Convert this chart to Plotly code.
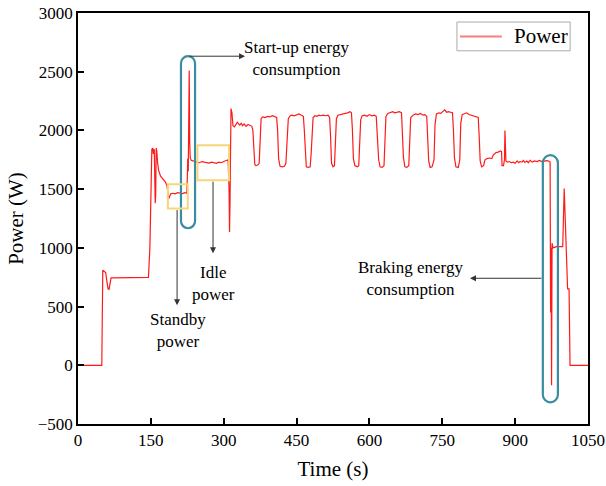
import plotly.graph_objects as go

# ---- data ----
time_s = [0, 49, 51, 54, 57, 60, 62, 64, 66, 68, 73, 100, 125, 145, 148, 152, 154, 155, 157, 159,
          160, 161, 162, 164, 166, 170, 175, 180, 183, 185, 187, 189, 191, 195, 200, 205, 210, 215,
          220, 224, 225, 226, 227, 228, 229, 230, 231, 233, 236, 240, 245, 250, 255, 260, 265, 270,
          275, 280, 285, 290, 295, 300, 305, 309, 311, 312, 313, 315, 317, 319, 322, 325, 328, 330,
          333, 336, 339, 342, 346, 350, 354, 358, 360, 362, 364, 366, 370, 373, 375, 377, 380, 385,
          390, 395, 400, 405, 409, 411, 413, 416, 420, 425, 428, 431, 433, 437, 440, 445, 450, 455,
          460, 464, 466, 468, 470, 474, 478, 480, 482, 484, 488, 492, 496, 500, 505, 510, 515, 518,
          520, 522, 525, 528, 530, 532, 535, 540, 545, 550, 555, 560, 563, 565, 567, 570, 575, 578,
          580, 582, 585, 590, 595, 600, 605, 610, 614, 616, 619, 622, 626, 630, 632, 634, 638, 643,
          648, 652, 657, 662, 666, 668, 670, 673, 677, 681, 683, 685, 690, 695, 700, 705, 710, 714,
          718, 720, 722, 725, 729, 733, 735, 738, 743, 747, 751, 755, 759, 763, 767, 771, 773, 775,
          778, 783, 786, 788, 791, 796, 800, 805, 810, 815, 820, 824, 826, 828, 831, 835, 838, 842,
          848, 852, 855, 860, 865, 870, 872, 873, 876, 878, 879, 880, 881, 884, 888, 892, 896, 900,
          904, 907, 910, 914, 917, 920, 924, 927, 931, 935, 940, 945, 950, 955, 960, 965, 969, 972,
          973, 974, 975, 976, 978, 985, 992, 998, 1001, 1008, 1011, 1013, 1030, 1050]
power_w = [0, 0, 810, 800, 790, 700, 650, 648, 700, 745, 745, 745, 745, 748, 1000, 1840, 1850, 1800, 1840, 1380,
           1450, 1850, 1830, 1720, 1660, 1610, 1580, 1560, 1530, 1470, 1420, 1440, 1460, 1465, 1460, 1470, 1465, 1462,
           1470, 1465, 1600, 1760, 1650, 2200, 2510, 1900, 1770, 1745, 1740, 1735, 1730, 1725, 1735, 1730, 1725, 1722,
           1730, 1728, 1720, 1730, 1725, 1735, 1740, 1750, 1500, 1135, 1400, 2186, 2150, 2040, 2030, 2050, 2070, 2060,
           2045, 2060, 2040, 2055, 2035, 2050, 2040, 2035, 2000, 1850, 1710, 1700, 1705, 1720, 1950, 2100, 2115, 2110,
           2120, 2115, 2125, 2120, 2110, 2000, 1760, 1695, 1690, 1695, 1720, 1950, 2100, 2125, 2130, 2125, 2130, 2140,
           2130, 2120, 2000, 1780, 1690, 1685, 1690, 1800, 2050, 2110, 2125, 2120, 2130, 2125, 2130, 2125, 2130, 2110,
           1950, 1720, 1690, 1700, 1900, 2100, 2130, 2135, 2140, 2140, 2150, 2160, 2150, 2000, 1760, 1700, 1690, 1700,
           1900, 2090, 2125, 2130, 2120, 2135, 2125, 2130, 2120, 1980, 1750, 1690, 1685, 1700, 1950, 2120, 2145, 2150,
           2160, 2150, 2155, 2160, 2150, 2000, 1770, 1690, 1685, 1700, 1950, 2110, 2130, 2140, 2135, 2145, 2130, 2135,
           2120, 1980, 1740, 1685, 1690, 1750, 2050, 2140, 2150, 2145, 2160, 2175, 2155, 2160, 2155, 2150, 2000, 1770,
           1690, 1685, 1750, 2060, 2135, 2140, 2150, 2135, 2130, 2125, 2120, 2110, 1950, 1740, 1690, 1700, 1750, 1760,
           1765, 1760, 1790, 1810, 1815, 1825, 1820, 1700, 1700, 1750, 2000, 1850, 1740, 1730, 1735, 1725, 1730, 1720,
           1740, 1725, 1735, 1730, 1745, 1728, 1740, 1725, 1745, 1730, 1740, 1735, 1745, 1735, 1740, 1742, 1740, 1730,
           450, 1000, -170, 1040, 1000, 1010, 1010, 1010, 1505, 650, 650, 0, 0, 0]

series_name = "Power"
x_ticks = [0, 150, 300, 450, 600, 750, 900, 1050]
y_ticks = [-500, 0, 500, 1000, 1500, 2000, 2500, 3000]

FONT = "Liberation Serif"
TEAL = "#3A8CA1"
GOLD = "#F9D57A"
ARROW = "#333333"
RED = "#FF1A1A"

fig = go.Figure()
fig.add_trace(go.Scatter(x=time_s, y=power_w, mode="lines", name=series_name,
                         line=dict(color=RED, width=1.2), showlegend=False))


def stadium(x0, x1, y0, y1, ry):
    xc = (x0 + x1) / 2
    rx = (x1 - x0) / 2
    k = 0.5523
    yt = y1 - ry
    yb = y0 + ry
    return (f"M {x0},{yt} C {x0},{yt + k*ry} {xc - k*rx},{y1} {xc},{y1} "
            f"C {xc + k*rx},{y1} {x1},{yt + k*ry} {x1},{yt} "
            f"L {x1},{yb} C {x1},{yb - k*ry} {xc + k*rx},{y0} {xc},{y0} "
            f"C {xc - k*rx},{y0} {x0},{yb - k*ry} {x0},{yb} Z")


shapes = [
    dict(type="path", path=stadium(212, 241, 1167, 2632, 62), line=dict(color=TEAL, width=2.2)),
    dict(type="path", path=stadium(957, 988, -315, 1789, 64), line=dict(color=TEAL, width=2.2)),
    dict(type="rect", x0=185, x1=226, y0=1335, y1=1542, line=dict(color=GOLD, width=2)),
    dict(type="rect", x0=246, x1=311, y0=1576, y1=1874, line=dict(color=GOLD, width=2)),
    # legend box and sample line
    dict(type="rect", xref="paper", yref="paper", x0=0.743, x1=0.965, y0=0.908, y1=0.978,
         line=dict(color="#AAAAAA", width=1), fillcolor="white"),
    dict(type="line", xref="paper", yref="paper", x0=0.749, x1=0.831, y0=0.943, y1=0.943,
         line=dict(color="#FF7A7A", width=2)),
]

tf = dict(family=FONT, size=17, color="black")
annotations = [
    # arrows
    dict(x=344, y=2632, ax=226.5, ay=2632, xref="x", yref="y", axref="x", ayref="y", text="",
         showarrow=True, arrowhead=2, arrowsize=1.2, arrowwidth=1, arrowcolor=ARROW),
    dict(x=278, y=954, ax=278, ay=1576, xref="x", yref="y", axref="x", ayref="y", text="",
         showarrow=True, arrowhead=2, arrowsize=1.2, arrowwidth=1, arrowcolor=ARROW),
    dict(x=204, y=511, ax=204, ay=1335, xref="x", yref="y", axref="x", ayref="y", text="",
         showarrow=True, arrowhead=2, arrowsize=1.2, arrowwidth=1, arrowcolor=ARROW),
    dict(x=807, y=741, ax=957, ay=741, xref="x", yref="y", axref="x", ayref="y", text="",
         showarrow=True, arrowhead=2, arrowsize=1.2, arrowwidth=1, arrowcolor=ARROW),
    # texts
    dict(x=449, y=2615, xref="x", yref="y", text="Start-up energy<br>consumption",
         showarrow=False, font=tf),
    dict(x=278, y=700, xref="x", yref="y", text="Idle<br>power", showarrow=False, font=tf),
    dict(x=206, y=300, xref="x", yref="y", text="Standby<br>power", showarrow=False, font=tf),
    dict(x=684, y=741, xref="x", yref="y", text="Braking energy<br>consumption",
         showarrow=False, font=tf),
    # legend label
    dict(x=0.851, y=0.943, xref="paper", yref="paper", xanchor="left", yanchor="middle",
         text=series_name, showarrow=False, font=dict(family=FONT, size=21, color="black")),
]

axis_common = dict(showline=True, linecolor="black", linewidth=1.5, mirror=True,
                   ticks="inside", ticklen=6, tickwidth=1.5, tickcolor="black",
                   showgrid=False, zeroline=False, automargin=False,
                   tickfont=dict(family=FONT, size=17, color="black"))

fig.update_layout(
    width=606, height=486,
    margin=dict(l=78, r=18, t=13, b=62),
    paper_bgcolor="white", plot_bgcolor="white",
    shapes=shapes, annotations=annotations,
    showlegend=False,
    xaxis=dict(range=[0, 1050], tickvals=x_ticks,
               title=dict(text="Time (s)", font=dict(family=FONT, size=21, color="black"), standoff=12),
               **axis_common),
    yaxis=dict(range=[-500, 3000], tickvals=y_ticks,
               title=dict(text="Power (W)", font=dict(family=FONT, size=21, color="black"), standoff=8),
               **axis_common),
)

fig.write_html("out.html")
